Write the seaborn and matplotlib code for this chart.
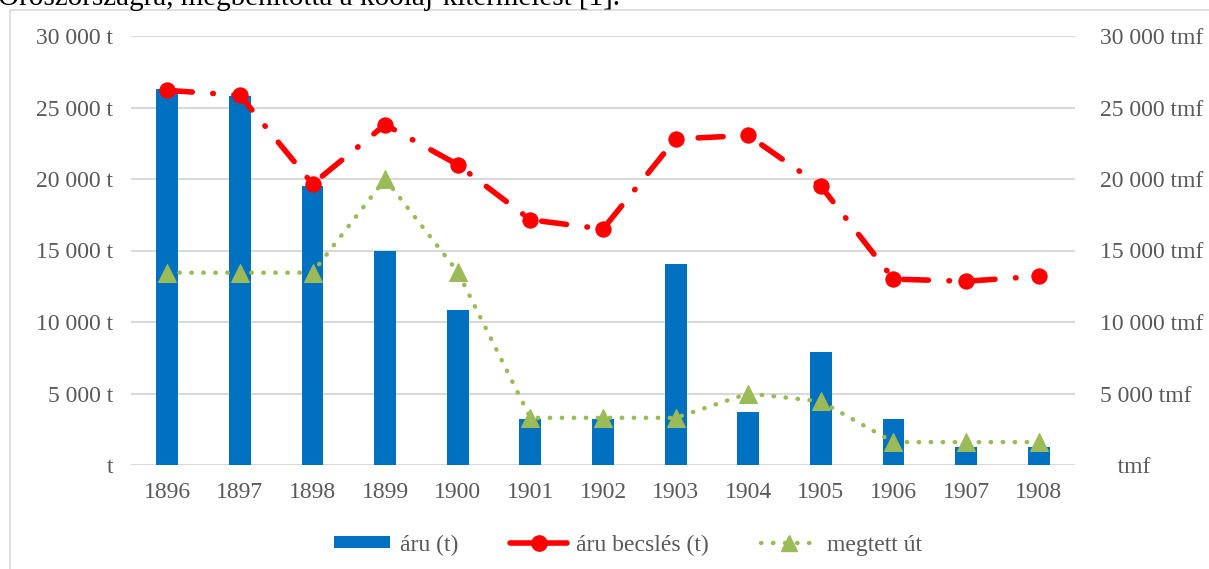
import numpy as np
import pandas as pd
import matplotlib
matplotlib.use("Agg")
import matplotlib.pyplot as plt
from matplotlib.patches import Rectangle
from matplotlib.lines import Line2D
from matplotlib.patches import Patch
import seaborn as sns

years = [1896, 1897, 1898, 1899, 1900, 1901, 1902, 1903, 1904, 1905, 1906, 1907, 1908]
aru = [26300, 25800, 19500, 15000, 10850, 3200, 3200, 14050, 3700, 7900, 3200, 1250, 1250]
aru_becsles = [26200, 25850, 19650, 23800, 21000, 17150, 16500, 22800, 23050, 19500, 13000, 12850, 13200]
megtett_ut = [13450, 13450, 13450, 20000, 13500, 3300, 3300, 3300, 5000, 4450, 1600, 1600, 1600]
left_ticks = [0, 5000, 10000, 15000, 20000, 25000, 30000]
left_labels = ["t", "5 000 t", "10 000 t", "15 000 t", "20 000 t", "25 000 t", "30 000 t"]
right_labels = ["   tmf", "5 000 tmf", "10 000 tmf", "15 000 tmf", "20 000 tmf", "25 000 tmf", "30 000 tmf"]
legend_labels = ["áru (t)", "áru becslés (t)", "megtett út"]
header_text = "Oroszországra, megbénította a kőolaj-kitermelést [1]."

df = pd.DataFrame({"year": years, "aru": aru, "becsles": aru_becsles, "ut": megtett_ut})

sns.set_theme(style="white")
plt.rcParams["font.family"] = ["Liberation Serif", "DejaVu Serif"]

W, H = 1209, 569
fig = plt.figure(figsize=(W / 100, H / 100), dpi=100)
fig.patch.set_facecolor("white")

# chart border
fig.patches.append(Rectangle((10 / W, -0.01), 1.0, 1 - 10 / H + 0.01, transform=fig.transFigure,
                             fill=False, edgecolor="#D9D9D9", linewidth=1.2))
fig.text(-0.002, 1 - 5 / H, header_text, fontsize=21, color="black", va="baseline", ha="left")

ax = fig.add_axes([131 / W, (H - 465) / H, 944 / W, 429 / H])
ax2 = ax.twinx()

BLUE = "#0070C0"
RED = "#FF0000"
GREEN = "#9BBB59"
GRAY = "#595959"

RED_DASH = (0, (4.5, 3.7, 0.1, 3.7))
GREEN_DOT = (0, (0.1, 2.6))

sns.barplot(data=df, x="year", y="aru", ax=ax, native_scale=True, color=BLUE,
            width=0.3, saturation=1, edgecolor="none", zorder=2)
sns.lineplot(data=df, x="year", y="becsles", ax=ax, color=RED, lw=4,
             linestyle=RED_DASH, dash_capstyle="round",
             marker="o", markersize=11, markeredgecolor=RED, zorder=4)
sns.lineplot(data=df, x="year", y="ut", ax=ax2, color=GREEN, lw=3.2,
             linestyle=GREEN_DOT, dash_capstyle="round",
             marker="^", markersize=13, markeredgecolor=GREEN, zorder=4)

for a in (ax, ax2):
    a.set_ylim(0, 30000)
    a.set_xlim(1895.5, 1908.5)
    a.set_xlabel("")
    a.set_ylabel("")
    for s in a.spines.values():
        s.set_visible(False)
    a.grid(False)

ax.set_yticks(left_ticks)
ax.set_yticklabels(left_labels)
ax2.set_yticks(left_ticks)
ax2.set_yticklabels(right_labels)
ax.set_xticks(years)
ax.set_xticklabels([str(y) for y in years])
ax.yaxis.grid(True, color="#D9D9D9", linewidth=1.5, zorder=0)
ax.set_axisbelow(True)
ax.tick_params(axis="y", length=0, pad=13, labelsize=17, labelcolor=GRAY)
ax.tick_params(axis="x", length=0, pad=12, labelsize=17, labelcolor=GRAY)
ax2.tick_params(axis="y", length=0, pad=18, labelsize=17, labelcolor=GRAY)
for lbl in ax2.get_yticklabels():
    lbl.set_ha("left")

handles = [
    Patch(facecolor=BLUE, edgecolor="none"),
    Line2D([0], [0], color=RED, lw=4, linestyle="-", marker="o", markersize=11,
           markevery=[1]),
    Line2D([0], [0], color=GREEN, lw=3.2, linestyle=GREEN_DOT, dash_capstyle="round",
           marker="^", markersize=11),
]
fig.legend(handles, legend_labels, loc="center", bbox_to_anchor=(628 / W, 1 - 545 / H),
           ncol=3, frameon=False, fontsize=17, labelcolor=GRAY, handlelength=2.4,
           handleheight=0.4, handletextpad=0.4, columnspacing=2.2)

fig.savefig("out.png", dpi=100, facecolor="white")
